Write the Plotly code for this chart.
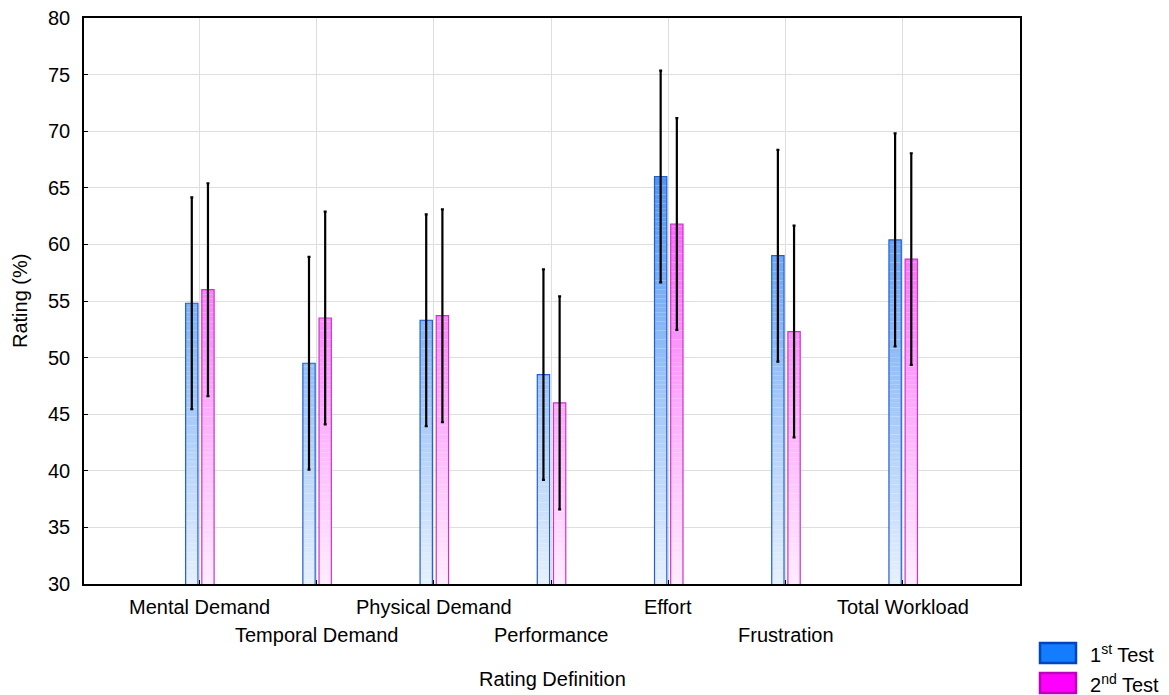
import plotly.graph_objects as go
import numpy as np

categories = ["Mental Demand", "Temporal Demand", "Physical Demand", "Performance",
              "Effort", "Frustration", "Total Workload"]
test1 = [54.8, 49.5, 53.3, 48.5, 66.0, 59.0, 60.4]
test2 = [56.0, 53.5, 53.7, 46.0, 61.8, 52.3, 58.7]
err1 = [9.35, 9.4, 9.35, 9.3, 9.35, 9.35, 9.4]
err2 = [9.4, 9.4, 9.4, 9.4, 9.35, 9.35, 9.35]
y_ticks = [30, 35, 40, 45, 50, 55, 60, 65, 70, 75, 80]

FONT = "Liberation Sans, Arial, sans-serif"
FS = 20
Y0, Y1 = 30, 80
x = np.arange(len(categories))

series = [
    dict(name="1<sup>st</sup> Test", vals=test1, err=err1, offset=-0.118,
         light=(230, 240, 253), dark=(22, 115, 235), edge="rgb(30,95,215)",
         swatch="rgb(20,125,255)", swatch_edge="rgb(0,70,190)"),
    dict(name="2<sup>nd</sup> Test", vals=test2, err=err2, offset=0.02,
         light=(255, 236, 255), dark=(245, 30, 245), edge="rgb(205,50,205)",
         swatch="rgb(255,0,255)", swatch_edge="rgb(190,0,190)"),
]
BAR_W = 0.105

# plot-area geometry in pixels (used for placing paper-coordinate items)
L, R, T, B = 84, 1020, 18, 584
W_PX, H_PX = R - L, B - T


def px_x(p):
    return (p - L) / W_PX


def px_y(p):
    return (B - p) / H_PX


fig = go.Figure()

# vertical colour gradient built from thin stacked bands (colour depends on rating level)
n_bands = 125
edges = np.linspace(Y0, Y1, n_bands + 1)
for s in series:
    vals = np.array(s["vals"])
    lo_c, hi_c = np.array(s["light"]), np.array(s["dark"])
    for j in range(n_bands):
        lo, hi = edges[j], edges[j + 1]
        h = np.clip(vals - lo, 0, hi - lo)
        if not np.any(h > 0):
            continue
        frac = ((lo + hi) / 2 - Y0) / (Y1 - Y0)
        c = lo_c + frac * (hi_c - lo_c)
        color = "rgb(%d,%d,%d)" % tuple(np.round(c).astype(int))
        fig.add_trace(go.Bar(
            x=x, y=[v if v > 0 else None for v in h], base=lo,
            width=BAR_W, offset=s["offset"],
            marker=dict(color=color, line=dict(width=0)),
            showlegend=False, hoverinfo="skip"))

# outlines and error bars
for s in series:
    fig.add_trace(go.Bar(
        x=x, y=s["vals"], width=BAR_W, offset=s["offset"],
        marker=dict(color="rgba(0,0,0,0)", line=dict(color=s["edge"], width=1.2)),
        showlegend=False,
        error_y=dict(type="data", array=s["err"], visible=True,
                     color="black", thickness=2.2, width=1.5)))

# category labels, staggered over two rows
for i, cat in enumerate(categories):
    fig.add_annotation(x=i, y=px_y(607 if i % 2 == 0 else 635), xref="x", yref="paper",
                       text=cat, showarrow=False, yanchor="middle",
                       font=dict(family=FONT, size=FS, color="black"))

fig.add_annotation(x=px_x(552), y=px_y(679), xref="paper", yref="paper", text="Rating Definition",
                   showarrow=False, yanchor="middle", font=dict(family=FONT, size=FS, color="black"))

fig.add_annotation(x=px_x(20), y=px_y(301), xref="paper", yref="paper", text="Rating (%)",
                   textangle=-90, showarrow=False, xanchor="center", yanchor="middle",
                   font=dict(family=FONT, size=FS, color="black"))

# legend
for k, s in enumerate(series):
    y_top = 643 + k * 30
    fig.add_shape(type="rect", xref="paper", yref="paper",
                  x0=px_x(1040), x1=px_x(1076),
                  y0=px_y(y_top), y1=px_y(y_top + 20),
                  fillcolor=s["swatch"], line=dict(color=s["swatch_edge"], width=2.5))
    fig.add_annotation(x=px_x(1088), y=px_y(y_top + 10), xref="paper", yref="paper",
                       text=s["name"], showarrow=False, xanchor="left", yanchor="middle",
                       font=dict(family=FONT, size=FS, color="black"))

fig.update_layout(
    width=1169, height=695,
    margin=dict(l=L, r=1169 - R, t=T, b=695 - B),
    paper_bgcolor="white", plot_bgcolor="white",
    barmode="overlay", showlegend=False,
    font=dict(family=FONT, size=FS, color="black"),
    xaxis=dict(range=[-0.985, 7.0], tickvals=list(x), showticklabels=False, automargin=False,
               showgrid=True, gridcolor="rgb(222,222,222)", gridwidth=1,
               ticks="inside", ticklen=4, tickcolor="black",
               showline=True, linecolor="black", linewidth=1.5, mirror=True, zeroline=False),
    yaxis=dict(range=[Y0, Y1], tickvals=y_ticks, automargin=False,
               showgrid=True, gridcolor="rgb(222,222,222)", gridwidth=1,
               ticks="inside", ticklen=4, tickcolor="black", ticklabelstandoff=8,
               showline=True, linecolor="black", linewidth=1.5, mirror=True, zeroline=False,
               tickfont=dict(family=FONT, size=FS)),
)

fig.write_html("out.html")
